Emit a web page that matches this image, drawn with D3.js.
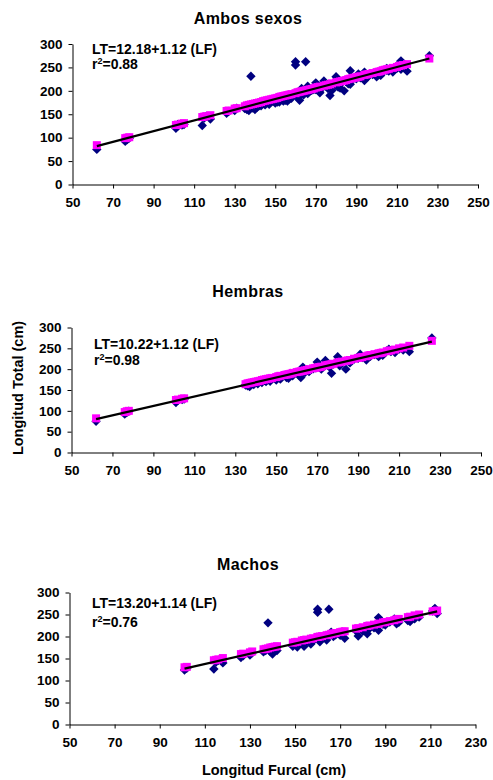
<!DOCTYPE html>
<html>
<head>
<meta charset="utf-8">
<script src="https://cdn.jsdelivr.net/npm/d3@7"></script>
<style>
body { margin: 0; background: #fff; }
text { font-family: "Liberation Sans", Arial, sans-serif; font-weight: bold; fill: #000; }
</style>
</head>
<body>
<div id="mainDiv"></div>
<script>
'use strict';

// Hembras: longitud furcal, longitud total observada, valor ajustado
var hembrasLF = [62, 76, 77, 78, 101, 102, 104, 105,
    135, 136, 137, 138, 139, 140, 141, 142, 143, 144, 145, 146, 147, 148,
    150, 151, 152, 154, 155, 156, 157, 158,
    160, 161, 162, 163, 164, 165, 166, 168, 169,
    170, 171, 172, 174, 175, 176, 177, 178,
    180, 181, 182, 184, 185, 186, 188,
    190, 191, 192, 194, 195, 196, 198,
    200, 201, 202, 204, 205, 206, 208,
    210, 212, 215, 226];
var hembrasLT = [75, 92, 96, 99, 120, 125, 127, 128,
    162, 160, 158, 166, 163, 168, 165, 171, 168, 173, 170, 176, 171, 178,
    174, 181, 176, 185, 180, 178, 190, 184,
    192, 186, 180, 205, 192, 198, 194, 201, 203,
    217, 206, 200, 221, 210, 205, 190, 212,
    230, 208, 218, 200, 220, 215, 224,
    226, 236, 228, 222, 232, 231, 235,
    230, 238, 233, 244, 248, 242, 240,
    248, 246, 242, 275];
var hembrasFit = [82, 97, 99, 100, 126, 127, 129, 130,
    164, 166, 167, 168, 169, 170, 171, 172, 174, 175, 176, 177, 178, 179,
    181, 183, 184, 186, 187, 188, 189, 191,
    193, 194, 195, 196, 197, 198, 200, 202, 203,
    204, 205, 206, 209, 210, 211, 212, 213,
    216, 217, 218, 220, 221, 222, 225,
    227, 228, 229, 231, 233, 234, 236,
    238, 239, 240, 243, 244, 245, 247,
    250, 252, 256, 268];

// Machos
var machosLF = [101, 102, 114, 115, 116, 118, 126, 127, 130, 131,
    136, 137, 138, 139, 140, 141, 142,
    149, 150, 151, 153, 154, 155, 157, 158,
    160, 160, 161, 162, 164, 165, 166, 167, 168,
    170, 171, 172, 177, 178, 180, 182, 183, 185, 187, 187, 189,
    190, 192, 194, 195, 196, 200, 201, 203, 205, 211, 212, 213];
var machosLT = [124, 128, 126, 142, 146, 140, 152, 156, 158, 163,
    165, 168, 231, 166, 160, 172, 168,
    178, 182, 176, 185, 178, 188, 183, 190,
    255, 262, 188, 196, 192, 262, 210, 200, 204,
    203, 210, 196, 213, 201, 212, 206, 218, 220, 243, 214, 228,
    226, 233, 240, 229, 232, 236, 234, 240, 244, 258, 264, 252];
var machosFit = [130, 131, 146, 147, 148, 151, 160, 161, 164, 166,
    171, 172, 173, 175, 176, 177, 178,
    186, 187, 188, 191, 192, 193, 195, 196,
    199, 199, 200, 201, 203, 204, 206, 207, 208,
    210, 211, 212, 218, 219, 221, 224, 225, 227, 229, 229, 232,
    233, 235, 237, 239, 240, 244, 245, 248, 250, 257, 258, 259];

// Ambos sexos: valores ajustados
var ambosFitLF = [62, 76, 77, 78, 101, 102, 104, 105, 114, 115, 116, 118, 126, 127, 130, 131,
    135, 136, 137, 138, 139, 140, 141, 142, 143, 144, 145, 146, 147, 148, 149,
    150, 151, 152, 153, 154, 155, 156, 157, 158,
    160, 161, 162, 163, 164, 165, 166, 167, 168, 169,
    170, 171, 172, 174, 175, 176, 177, 178,
    180, 181, 182, 183, 184, 185, 186, 187, 188, 189,
    190, 191, 192, 194, 195, 196, 198,
    200, 201, 202, 203, 204, 205, 206, 208,
    210, 211, 212, 213, 215, 226];
var ambosFit = [84, 99, 100, 101, 127, 128, 130, 131, 144, 145, 146, 148, 157, 158, 162, 163,
    167, 169, 170, 171, 172, 173, 174, 175, 176, 178, 179, 180, 181, 182, 183,
    184, 185, 187, 188, 189, 190, 191, 192, 193,
    195, 197, 198, 199, 200, 201, 202, 203, 204, 205,
    207, 208, 209, 211, 212, 213, 214, 216,
    218, 219, 220, 221, 222, 223, 225, 226, 227, 228,
    229, 230, 231, 234, 235, 236, 238,
    240, 241, 242, 244, 245, 246, 247, 249,
    251, 253, 254, 255, 257, 269];

// regression lines (start and end points)
var ambosLine = [[62, 82], [226, 269]];
var hembrasLine = [[62, 80], [226, 266]];
var machosLine = [[101, 127], [213, 257]];

var titles = ['Ambos sexos', 'Hembras', 'Machos'];
var equations = ['LT=12.18+1.12 (LF)', 'LT=10.22+1.12 (LF)', 'LT=13.20+1.14 (LF)'];
var r2Values = ['0.88', '0.98', '0.76'];
var xTicksWide = [50, 70, 90, 110, 130, 150, 170, 190, 210, 230, 250];
var xTicksShort = [50, 70, 90, 110, 130, 150, 170, 190, 210, 230];
var yTicks = [0, 50, 100, 150, 200, 250, 300];

var myApp = {};

myApp.zip = function(xs, ys)
{
    return xs.map(function(v, i){ return [v, ys[i]]; });
}

myApp.diamond = function(r)
{
    return 'M0,' + (-r) + 'L' + r + ',0L0,' + r + 'L' + (-r) + ',0Z';
}

myApp.styleAxis = function(g)
{
    g.selectAll('text')
        .attr('font-family', '"Liberation Sans", Arial, sans-serif')
        .attr('font-weight', 'bold')
        .attr('font-size', 13.5)
        .attr('fill', '#000');
    g.selectAll('line').attr('stroke', '#000');
    g.select('.domain').attr('stroke', '#000');
}

myApp.drawPanel = function(svg, p)
{
    var g = svg.append('g');

    var x = d3.scaleLinear()
        .domain([p.xTicks[0], p.xTicks[p.xTicks.length - 1]])
        .range([p.left, p.right]);
    var y = d3.scaleLinear()
        .domain([0, 300])
        .range([p.bottom, p.top]);

    g.append('text')
        .attr('x', 248)
        .attr('y', p.titleY)
        .attr('text-anchor', 'middle')
        .attr('font-size', 16)
        .attr('letter-spacing', 0.4)
        .text(p.title);

    var xAxis = g.append('g')
        .attr('transform', 'translate(0,' + p.bottom + ')')
        .call(d3.axisBottom(x).tickValues(p.xTicks).tickSize(4).tickSizeOuter(0).tickPadding(9));
    myApp.styleAxis(xAxis);

    var yAxis = g.append('g')
        .attr('transform', 'translate(' + p.left + ',0)')
        .call(d3.axisLeft(y).tickValues(yTicks).tickSize(4).tickSizeOuter(0).tickPadding(6));
    myApp.styleAxis(yAxis);

    // observed values
    g.append('g').selectAll('path')
        .data(myApp.zip(p.obsLF, p.obsLT))
        .enter()
        .append('path')
        .attr('d', myApp.diamond(4.7))
        .attr('transform', function(d){ return 'translate(' + x(d[0]) + ',' + y(d[1]) + ')'; })
        .attr('fill', '#000080');

    // fitted values
    g.append('g').selectAll('rect')
        .data(myApp.zip(p.fitLF, p.fitLT))
        .enter()
        .append('rect')
        .attr('x', function(d){ return x(d[0]) - 4; })
        .attr('y', function(d){ return y(d[1]) - 4; })
        .attr('width', 8)
        .attr('height', 8)
        .attr('fill', '#ff00ff');

    g.append('path')
        .datum(p.line)
        .attr('d', d3.line().x(function(d){ return x(d[0]); }).y(function(d){ return y(d[1]); }))
        .attr('stroke', '#000')
        .attr('stroke-width', 2.2)
        .attr('fill', 'none');

    g.append('text')
        .attr('x', p.eqX)
        .attr('y', p.eqY)
        .attr('font-size', 14)
        .text(p.eq);

    var r2 = g.append('text')
        .attr('x', p.eqX)
        .attr('y', p.r2Y)
        .attr('font-size', 14);
    r2.append('tspan').text('r');
    r2.append('tspan').attr('font-size', 9).attr('dy', -5).text('2');
    r2.append('tspan').attr('dy', 5).text('=' + p.r2);
}

myApp.run = function()
{
    var svg = d3.select('#mainDiv').append('svg')
        .attr('width', 493)
        .attr('height', 780);

    var panels = [
        { title: titles[0], titleY: 23.5, left: 72.5, right: 478, top: 44, bottom: 184.5,
          xTicks: xTicksWide,
          obsLF: hembrasLF.concat(machosLF), obsLT: hembrasLT.concat(machosLT),
          fitLF: ambosFitLF, fitLT: ambosFit, line: ambosLine,
          eq: equations[0], r2: r2Values[0], eqX: 92, eqY: 53.5, r2Y: 68.5 },
        { title: titles[1], titleY: 297, left: 71.5, right: 481, top: 327.5, bottom: 452.5,
          xTicks: xTicksWide,
          obsLF: hembrasLF, obsLT: hembrasLT,
          fitLF: hembrasLF, fitLT: hembrasFit, line: hembrasLine,
          eq: equations[1], r2: r2Values[1], eqX: 94, eqY: 348.5, r2Y: 365 },
        { title: titles[2], titleY: 570, left: 69.5, right: 475.5, top: 592.5, bottom: 724.5,
          xTicks: xTicksShort,
          obsLF: machosLF, obsLT: machosLT,
          fitLF: machosLF, fitLT: machosFit, line: machosLine,
          eq: equations[2], r2: r2Values[2], eqX: 92, eqY: 608, r2Y: 627 }
    ];

    panels.forEach(function(p){ myApp.drawPanel(svg, p); });

    svg.append('text')
        .attr('transform', 'translate(23,388) rotate(-90)')
        .attr('text-anchor', 'middle')
        .attr('font-size', 14.5)
        .text('Longitud Total (cm)');

    svg.append('text')
        .attr('x', 274)
        .attr('y', 775)
        .attr('text-anchor', 'middle')
        .attr('font-size', 14.5)
        .text('Longitud Furcal (cm)');
}

myApp.run();
</script>
</body>
</html>
